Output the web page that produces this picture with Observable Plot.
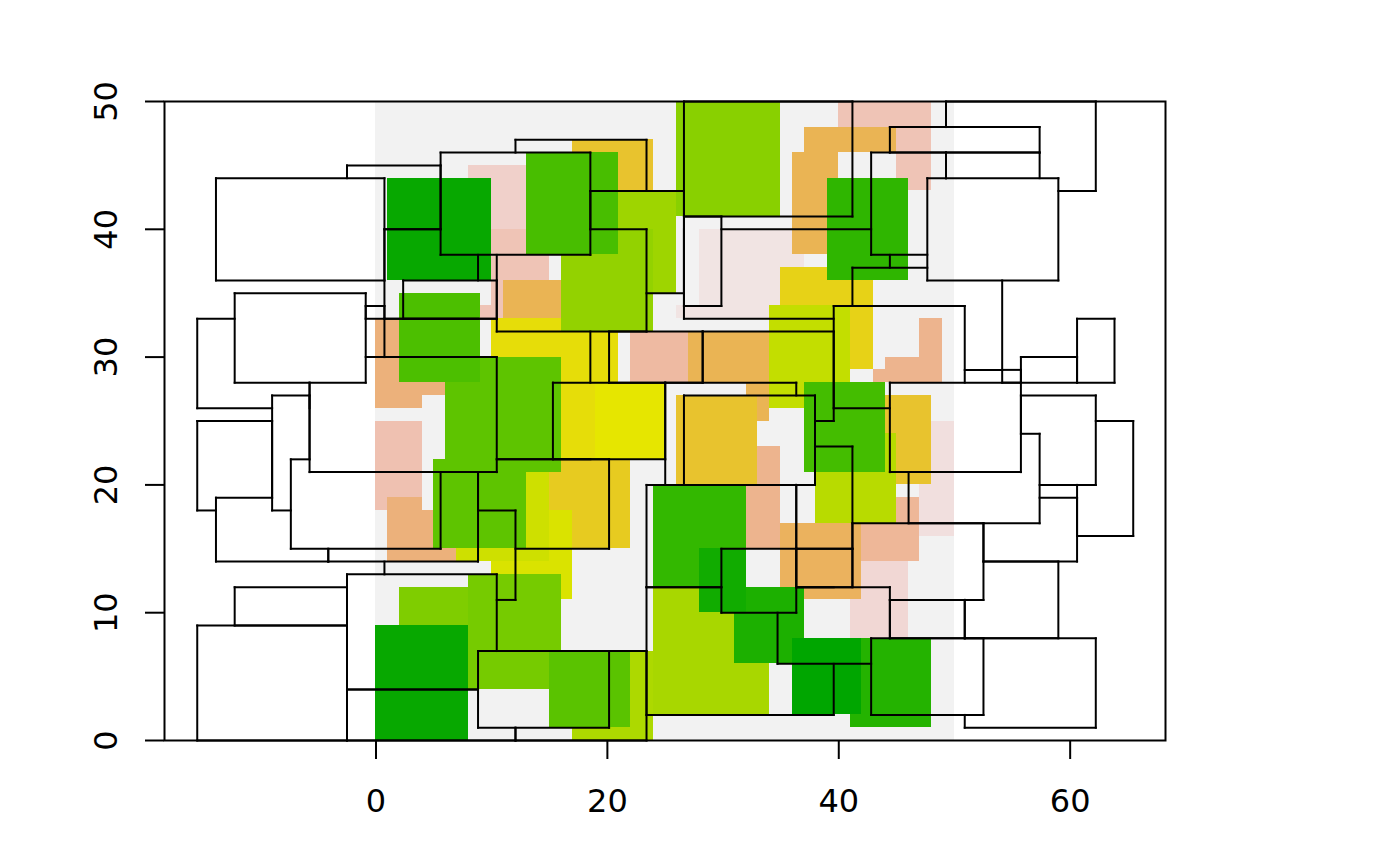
<!DOCTYPE html>
<html>
<head>
<meta charset="utf-8">
<script src="https://cdn.jsdelivr.net/npm/d3@7"></script>
<script src="https://cdn.jsdelivr.net/npm/@observablehq/plot@0.6"></script>
<style>
  html, body { margin: 0; padding: 0; background: #ffffff; }
  #chart { width: 1400px; height: 866px; }
</style>
</head>
<body>
<div id="chart"></div>
<script>
// Rectangular polygons on a 0..50 grid, listed in drawing order (later ones cover earlier ones).
const rectK1 = [0, 2, 8, 17, 15, 10, 8, 15, 7, 0, 1, 0, 4, 5, 10, 6, 2, 19, 9, 10,
                11, 8, 1, 21, 16, 17, 13, 26, 26, 26, 35, 34, 36, 40, 37, 40, 39, 27, 22, 32,
                25, 26, 24, 24, 41, 35, 31, 28, 41, 36, 37, 32, 42, 47, 44, 38, 37, 47, 44, 43];
const rectK2 = [8, 8, 17, 24, 22, 17, 16, 22, 15, 4, 7, 6, 6, 13, 21, 16, 9, 25, 10, 15,
                16, 13, 10, 26, 24, 24, 21, 35, 37, 28, 43, 41, 40, 48, 45, 45, 46, 34, 27, 35,
                32, 33, 32, 34, 46, 42, 37, 32, 48, 42, 41, 35, 47, 50, 48, 45, 44, 49, 47, 44];
const rectY1 = [0, 9, 0, 0, 15, 11, 4, 1, 14, 18, 14, 26, 18, 15, 22, 21, 28, 22, 33, 33,
                33, 40, 36, 35, 32, 43, 38, 41, 33, 34, 29, 26, 38, 43, 46, 43, 36, 25, 28, 15,
                20, 20, 12, 2, 8, 11, 6, 10, 1, 2, 8, 12, 14, 16, 20, 17, 21, 28, 28, 28];
const rectY2 = [9, 12, 4, 7, 22, 18, 13, 7, 21, 25, 19, 33, 27, 22, 33, 30, 35, 28, 34, 40,
                36, 45, 44, 43, 40, 47, 46, 50, 40, 41, 37, 34, 46, 50, 48, 46, 44, 32, 32, 23,
                28, 27, 20, 12, 14, 17, 12, 15, 8, 8, 11, 15, 19, 25, 27, 24, 28, 33, 30, 29];
// raster value of each polygon (position on the terrain colour ramp, 1 = lightest grey)
const rectValue = [0.02, 0.31, 1, 0.40, 0.57, 0.48, 0.29, 0.23, 0.46, 0.87, 0.76, 0.76, 1, 0.24, 0.52, 0.24, 0.20, 0.50, 0.88, 0.88,
                   0.68, 0.92, 0.02, 0.37, 0.35, 0.60, 0.19, 0.33, 0.97, 1, 0.55, 0.44, 0.68, 0.88, 0.68, 1, 0.13, 0.68, 0.84, 0.80,
                   1, 0.60, 0.14, 0.39, 0.94, 0.70, 0.08, 0.05, 0.10, 0.00, 1, 1, 0.82, 0.96, 0.60, 0.42, 0.18, 0.80, 0.80, 0.80];

const rasterExtent = [{k1: 0, k2: 50, y1: 0, y2: 50, value: 1}];
const outlineCentre = 25;
const outlineStretch = 1.618;
const xTicks = [0, 20, 40, 60];
const yTicks = [0, 10, 20, 30, 40, 50];
const xDomain = [-18.28, 68.24];
const yDomain = [0, 50];

// R's terrain.colors ramp as a continuous interpolator (HSV based)
function terrain(t) {
  t = Math.max(0, Math.min(1, t));
  let h, s, v;
  if (t <= 0.5) { const u = t / 0.5; h = 4 / 12 - u * (2 / 12); s = 1; v = 0.65 + 0.25 * u; }
  else { const u = (t - 0.5) / 0.5; h = (2 / 12) * (1 - u); s = 1 - u; v = 0.9 + 0.05 * u; }
  const i = Math.floor(h * 6 + 1e-9), f = h * 6 - i;
  const p = v * (1 - s), q = v * (1 - f * s), w = v * (1 - (1 - f) * s);
  let r, g, b;
  switch (((i % 6) + 6) % 6) {
    case 0: r = v; g = w; b = p; break;
    case 1: r = q; g = v; b = p; break;
    case 2: r = p; g = v; b = w; break;
    case 3: r = p; g = q; b = v; break;
    case 4: r = w; g = p; b = v; break;
    default: r = v; g = p; b = q;
  }
  return `rgb(${Math.round(r * 255)},${Math.round(g * 255)},${Math.round(b * 255)})`;
}

const polys = rectK1.map((k1, i) => ({k1, k2: rectK2[i], y1: rectY1[i], y2: rectY2[i], value: rectValue[i]}));
const stretch = k => outlineCentre + outlineStretch * (k - outlineCentre);

// Boundary pieces of each polygon that are not covered by a polygon drawn after it
function subtract(parts, lo, hi) {
  const out = [];
  for (const [a, b] of parts) {
    if (hi <= a || lo >= b) { out.push([a, b]); continue; }
    if (lo > a) out.push([a, lo]);
    if (hi < b) out.push([hi, b]);
  }
  return out;
}
const edges = [];
polys.forEach((p, i) => {
  const later = polys.slice(i + 1);
  for (const y of [p.y1, p.y2]) {
    let parts = [[p.k1, p.k2]];
    for (const q of later) if (q.y1 < y && y < q.y2) parts = subtract(parts, q.k1, q.k2);
    for (const [a, b] of parts) if (b > a) edges.push({ka: a, kb: b, ya: y, yb: y});
  }
  for (const k of [p.k1, p.k2]) {
    let parts = [[p.y1, p.y2]];
    for (const q of later) if (q.k1 < k && k < q.k2) parts = subtract(parts, q.y1, q.y2);
    for (const [a, b] of parts) if (b > a) edges.push({ka: k, kb: k, ya: a, yb: b});
  }
});

const chart = Plot.plot({
  width: 1400,
  height: 866,
  marginLeft: 164,
  marginRight: 235,
  marginTop: 101,
  marginBottom: 126,
  x: {domain: xDomain},
  y: {domain: yDomain},
  color: {type: "linear", domain: [0, 1], interpolate: terrain},
  style: {fontFamily: "DejaVu Sans", fontSize: "32px", background: "white", color: "black"},
  marks: [
    Plot.rect(rasterExtent, {x1: "k1", x2: "k2", y1: "y1", y2: "y2", fill: "value", shapeRendering: "crispEdges"}),
    Plot.rect(polys, {x1: "k1", x2: "k2", y1: "y1", y2: "y2", fill: "value", shapeRendering: "crispEdges"}),
    Plot.link(edges, {
      x1: d => stretch(d.ka), x2: d => stretch(d.kb), y1: "ya", y2: "yb",
      stroke: "black", strokeWidth: 2, strokeLinecap: "square"
    }),
    Plot.frame({stroke: "black", strokeWidth: 2}),
    Plot.axisX({ticks: xTicks, tickSize: 19, tickPadding: 30, fontSize: 32, strokeWidth: 2, label: null, tickFormat: d => String(d)}),
    Plot.axisY({ticks: yTicks, tickSize: 19, tickPadding: 29, tickRotate: -90, fontSize: 32, strokeWidth: 2, label: null, tickFormat: d => String(d)})
  ]
});
document.getElementById("chart").append(chart);
</script>
</body>
</html>
